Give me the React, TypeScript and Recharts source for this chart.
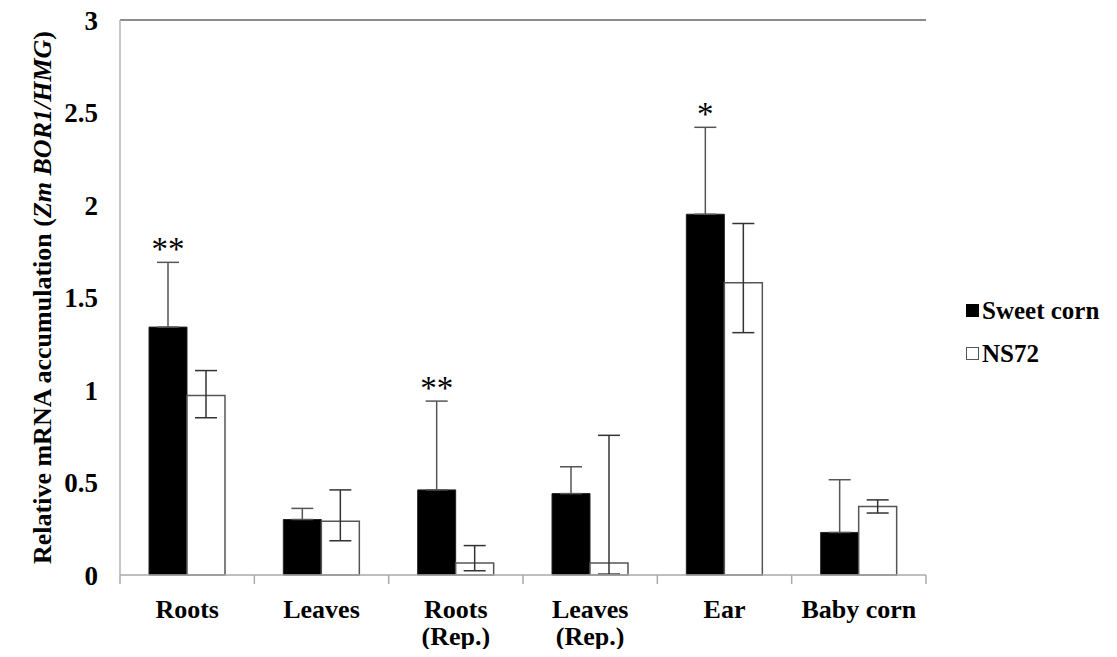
import React from 'react';
import { BarChart, Bar, XAxis, YAxis, ErrorBar, LabelList, Legend, ReferenceLine } from 'recharts';

// tissue groups, two lines where the label wraps
const categories = [['Roots'], ['Leaves'], ['Roots', '(Rep.)'], ['Leaves', '(Rep.)'], ['Ear'], ['Baby corn']];
const sweetCorn = [1.34, 0.3, 0.46, 0.44, 1.95, 0.23];
const sweetCornErr = [0.35, 0.06, 0.48, 0.145, 0.47, 0.285];
const ns72 = [0.97, 0.29, 0.065, 0.065, 1.58, 0.37];
const ns72ErrLow = [0.12, 0.105, 0.042, 0.06, 0.27, 0.035];
const ns72ErrHigh = [0.135, 0.17, 0.094, 0.69, 0.32, 0.036];
const significance = ['**', '', '**', '', '*', ''];
const yTicks = [0, 0.5, 1, 1.5, 2, 2.5, 3];

const W = 1117;
const H = 657;
const M = { top: 20, right: 191, bottom: 0, left: 20 };
const Y_AXIS_W = 100;
const X_AXIS_H = 82;
const PLOT_W = W - M.left - Y_AXIS_W - M.right;
const BAND = PLOT_W / categories.length;
const FONT = '"Liberation Serif", "Times New Roman", serif';

const data = categories.map((lines, i) => ({
  name: lines.join(' '),
  lines,
  sweet: sweetCorn[i],
  sweetErr: [0, sweetCornErr[i]],
  ns: ns72[i],
  nsErr: [ns72ErrLow[i], ns72ErrHigh[i]],
}));

function CategoryTick(props: any) {
  const { x, y, index, payload } = props;
  const lines: string[] = data[payload.index ?? index]?.lines ?? [String(payload.value)];
  const left = x - BAND / 2;
  return (
    <g>
      <line x1={left} y1={y} x2={left} y2={y + 9} stroke="#aaa" strokeWidth={1.5} />
      {index === categories.length - 1 && (
        <line x1={left + BAND} y1={y} x2={left + BAND} y2={y + 9} stroke="#aaa" strokeWidth={1.5} />
      )}
      <text x={x} y={y + 43} textAnchor="middle" fontFamily={FONT} fontWeight="bold" fontSize={26} fill="#000">
        {lines.map((l, i) => (
          <tspan key={i} x={x} dy={i === 0 ? 0 : 27}>{l}</tspan>
        ))}
      </text>
    </g>
  );
}

function Stars(props: any) {
  const { x, y, width, height, value, index } = props;
  const mark = significance[index];
  if (!mark || !value) return null;
  const perUnit = height / value;
  const top = y - sweetCornErr[index] * perUnit;
  return (
    <text x={x + width / 2} y={top - 2} textAnchor="middle" fontFamily={FONT} fontSize={33} fill="#000">
      {mark}
    </text>
  );
}

function YTitle(props: any) {
  const vb = props.viewBox;
  const cy = vb.y + vb.height / 2;
  const cx = 42;
  return (
    <text
      x={cx}
      y={cy}
      transform={`rotate(-90 ${cx} ${cy})`}
      textAnchor="middle"
      dominantBaseline="central"
      fontFamily={FONT}
      fontWeight="bold"
      fontSize={26}
      fill="#000"
    >
      Relative mRNA accumulation (<tspan fontStyle="italic">Zm BOR1/HMG</tspan>)
    </text>
  );
}

function LegendBox() {
  const items = [
    { label: 'Sweet corn', fill: '#000', stroke: '#000' },
    { label: 'NS72', fill: '#fff', stroke: '#555' },
  ];
  return (
    <div style={{ fontFamily: FONT, fontWeight: 'bold', fontSize: 25, color: '#000', whiteSpace: 'nowrap' }}>
      {items.map((it) => (
        <div key={it.label} style={{ display: 'flex', alignItems: 'center', height: 43 }}>
          <span
            style={{
              display: 'inline-block',
              width: 11,
              height: 11,
              background: it.fill,
              border: `1px solid ${it.stroke}`,
              marginRight: 3,
            }}
          />
          {it.label}
        </div>
      ))}
    </div>
  );
}

export default function App() {
  return (
    <div style={{ margin: -8 }}>
      <BarChart width={W} height={H} data={data} margin={M} barGap={0} barSize={38}>
        <XAxis
          dataKey="name"
          height={X_AXIS_H}
          axisLine={{ stroke: '#aaa', strokeWidth: 1.5 }}
          tickLine={false}
          tickSize={0}
          tickMargin={0}
          interval={0}
          tick={<CategoryTick />}
        />
        <YAxis
          width={Y_AXIS_W}
          domain={[0, 3]}
          ticks={yTicks}
          interval={0}
          axisLine={{ stroke: '#b5b5b5', strokeWidth: 1.5 }}
          tickLine={false}
          tickMargin={16}
          tick={{ fontFamily: FONT, fontWeight: 'bold', fontSize: 27, fill: '#000' }}
          label={{ content: <YTitle /> }}
        />
        <YAxis
          yAxisId="frame"
          orientation="right"
          width={0}
          tick={false}
          tickLine={false}
          axisLine={{ stroke: '#000', strokeWidth: 1.5 }}
        />
        <ReferenceLine y={3} stroke="#666" strokeWidth={1.5} />
        <Legend
          layout="horizontal"
          align="center"
          verticalAlign="middle"
          content={<LegendBox />}
          wrapperStyle={{ left: 966, top: 289, width: 150 }}
        />
        <Bar dataKey="sweet" name="Sweet corn" fill="#000" stroke="#222" strokeWidth={1} isAnimationActive={false}>
          <ErrorBar dataKey="sweetErr" width={11} stroke="#555" strokeWidth={1.5} direction="y" />
          <LabelList dataKey="sweet" content={<Stars />} />
        </Bar>
        <Bar dataKey="ns" name="NS72" fill="#fff" stroke="#555" strokeWidth={1.5} isAnimationActive={false}>
          <ErrorBar dataKey="nsErr" width={11} stroke="#333" strokeWidth={1.5} direction="y" />
        </Bar>
      </BarChart>
    </div>
  );
}
